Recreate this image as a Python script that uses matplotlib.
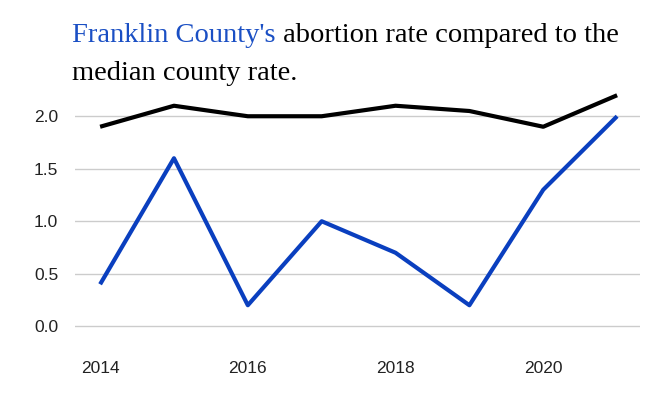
import matplotlib
matplotlib.use("Agg")
import matplotlib.pyplot as plt

years = [2014, 2015, 2016, 2017, 2018, 2019, 2020, 2021]
median_rate = [1.9, 2.1, 2.0, 2.0, 2.1, 2.05, 1.9, 2.2]
franklin_rate = [0.4, 1.6, 0.2, 1.0, 0.7, 0.2, 1.3, 2.0]
yticks = [0.0, 0.5, 1.0, 1.5, 2.0]
xticks = [2014, 2016, 2018, 2020]

W, H = 667, 400
fig = plt.figure(figsize=(W/100, H/100), dpi=100)
ax = fig.add_axes([75/W, 1-342/H, 565/W, (342-90)/H])
ax.plot(years, median_rate, color="black", lw=3, solid_capstyle="butt")
ax.plot(years, franklin_rate, color="#0a3fbf", lw=3, solid_capstyle="butt")
ax.set_xlim(2013.66, 2021.31)
ax.set_ylim(-0.15, 2.25)
ax.set_yticks(yticks)
ax.set_yticklabels([f"{v:.1f}" for v in yticks], family=["Liberation Sans"])
ax.set_xticks(xticks)
ax.set_xticklabels([str(x) for x in xticks], family=["Liberation Sans"])
for s in ax.spines.values():
    s.set_visible(False)
ax.grid(axis="y", color="#cccccc", lw=1)
ax.tick_params(length=0, labelsize=12.5, colors="#222222")
ax.tick_params(axis="x", pad=14)
ax.tick_params(axis="y", pad=12)

serif = ["Liberation Serif", "DejaVu Serif"]
fs = 20.5
t1 = fig.text(72/W, 1-42/H, "Franklin County's", color="#1a4fc4", fontsize=fs, family=serif)
fig.canvas.draw()
bb = t1.get_window_extent(fig.canvas.get_renderer())
fig.text(bb.x1/W, 1-42/H, " abortion rate compared to the", color="black", fontsize=fs, family=serif)
fig.text(72/W, 1-80/H, "median county rate.", color="black", fontsize=fs, family=serif)
fig.savefig("out.png", dpi=100)
